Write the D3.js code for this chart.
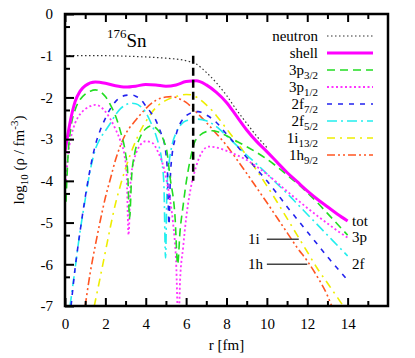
<!DOCTYPE html>
<html><head><meta charset="utf-8">
<script src="https://cdn.jsdelivr.net/npm/d3@7"></script>
<style>body{margin:0;background:#fff}svg{display:block}svg text{font-family:"Liberation Serif","DejaVu Serif",serif !important;fill:#000}</style>
</head><body><svg id="c" width="415" height="358" style="font-family:'Liberation Serif',serif"></svg>
<script>
// ---- data (r in fm, log10 density) ----
const neutron = [[0,-1.0],[1,-1.0],[2,-1.0],[3,-1.01],[4,-1.03],[5,-1.06],[5.5,-1.08],[6,-1.12],[6.5,-1.2],[7,-1.4],[7.5,-1.65],[8,-1.95],[8.5,-2.3],[9,-2.62],[9.5,-2.93],[10,-3.2]];
const shell = [[0,-3.3],[0.12,-2.95],[0.25,-2.6],[0.5,-2.1],[0.75,-1.85],[1,-1.72],[1.5,-1.63],[2,-1.66],[2.5,-1.72],[3,-1.75],[3.5,-1.73],[4,-1.69],[4.5,-1.7],[5,-1.73],[5.5,-1.7],[6,-1.62],[6.5,-1.6],[7,-1.7],[7.5,-1.88],[8,-2.12],[8.5,-2.45],[9,-2.78],[9.5,-3.06],[10,-3.3],[10.5,-3.55],[11,-3.8],[11.5,-4.02],[12,-4.24],[12.5,-4.44],[13,-4.62],[13.5,-4.8],[14,-4.96]];
const p3_2 = [[0.05,-4.5],[0.15,-3.4],[0.3,-2.7],[0.5,-2.3],[0.75,-2.05],[1,-1.92],[1.25,-1.85],[1.5,-1.82],[1.75,-1.86],[2,-1.98],[2.25,-2.18],[2.5,-2.44],[2.75,-2.82],[3,-3.35],[3.1,-3.75],[3.2,-4.9],[3.3,-3.9],[3.45,-3.35],[3.7,-2.98],[4,-2.75],[4.3,-2.68],[4.6,-2.78],[4.9,-3.05],[5.05,-3.3],[5.2,-3.9],[5.45,-4.86],[5.58,-6.0],[5.7,-5.2],[5.85,-4.6],[6,-4.05],[6.2,-3.5],[6.4,-3.1],[6.7,-2.9],[7,-2.82],[7.3,-2.8],[7.6,-2.83],[8,-2.92],[8.5,-3.05],[9,-3.18],[9.5,-3.32],[10,-3.48],[10.5,-3.66],[11,-3.86],[11.5,-4.06],[12,-4.28],[12.5,-4.52],[13,-4.78],[13.5,-5.04],[14,-5.3]];
const p1_2 = [[0.05,-4.0],[0.15,-3.4],[0.3,-2.95],[0.5,-2.62],[0.75,-2.4],[1,-2.28],[1.25,-2.21],[1.5,-2.18],[1.75,-2.22],[2,-2.34],[2.25,-2.52],[2.5,-2.76],[2.75,-3.05],[2.95,-3.4],[3.05,-3.8],[3.15,-5.3],[3.25,-4.0],[3.4,-3.55],[3.65,-3.2],[4,-3.05],[4.3,-3.08],[4.6,-3.3],[4.9,-3.7],[5.15,-4.3],[5.35,-5.0],[5.5,-5.9],[5.62,-7.5],[5.7,-6.4],[5.85,-5.6],[6,-4.9],[6.2,-4.25],[6.5,-3.65],[6.8,-3.3],[7.1,-3.18],[7.5,-3.2],[8,-3.28],[8.5,-3.38],[9,-3.5],[9.5,-3.66],[10,-3.84],[10.5,-4.04],[11,-4.25],[11.5,-4.45],[12,-4.65],[12.5,-4.84],[13,-5.02],[13.5,-5.2],[14,-5.36]];
const f7_2 = [[0.3,-7.0],[0.5,-6.1],[0.75,-5.2],[1,-4.4],[1.25,-3.7],[1.5,-3.15],[1.75,-2.78],[2,-2.5],[2.25,-2.27],[2.5,-2.1],[2.75,-2.0],[3,-1.95],[3.25,-1.94],[3.5,-1.97],[3.75,-2.05],[4,-2.2],[4.25,-2.36],[4.5,-2.55],[4.75,-2.85],[4.9,-3.05],[5.0,-3.35],[5.08,-3.85],[5.15,-5.05],[5.22,-3.9],[5.3,-3.4],[5.45,-3.0],[5.6,-2.74],[5.8,-2.55],[6,-2.44],[6.3,-2.36],[6.6,-2.34],[7,-2.42],[7.5,-2.6],[8,-2.88],[8.5,-3.15],[9,-3.44],[9.5,-3.72],[10,-4.0],[10.5,-4.3],[11,-4.62],[11.5,-4.92],[12,-5.22],[12.5,-5.52],[13,-5.82],[13.5,-6.1],[14,-6.38]];
const f5_2 = [[0.25,-7.0],[0.5,-6.1],[0.75,-5.2],[1,-4.45],[1.25,-3.75],[1.5,-3.25],[1.75,-2.98],[2,-2.8],[2.25,-2.62],[2.5,-2.42],[2.75,-2.27],[3,-2.18],[3.25,-2.14],[3.5,-2.15],[3.75,-2.22],[4,-2.36],[4.25,-2.6],[4.5,-2.9],[4.65,-3.15],[4.8,-3.55],[4.9,-4.1],[4.98,-5.85],[5.05,-4.2],[5.15,-3.6],[5.3,-3.15],[5.5,-2.85],[5.75,-2.65],[6,-2.56],[6.5,-2.52],[7,-2.56],[7.5,-2.7],[8,-2.92],[8.5,-3.15],[9,-3.38],[9.5,-3.6],[10,-3.83],[10.5,-4.07],[11,-4.3],[11.5,-4.55],[12,-4.8],[12.5,-5.05],[13,-5.3],[13.5,-5.55],[14,-5.8]];
const i13_2 = [[1.45,-7.0],[1.75,-6.3],[2,-5.7],[2.25,-5.1],[2.5,-4.55],[2.75,-4.1],[3,-3.7],[3.25,-3.35],[3.5,-3.05],[3.8,-2.74],[4,-2.58],[4.3,-2.36],[4.6,-2.2],[5,-2.07],[5.5,-1.98],[6,-1.93],[6.3,-1.94],[6.6,-2.02],[7,-2.18],[7.3,-2.32],[7.6,-2.5],[8,-2.75],[8.5,-3.07],[9,-3.4],[9.5,-3.75],[10,-4.12],[10.5,-4.5],[11,-4.9],[11.5,-5.3],[12,-5.7],[12.5,-6.1],[13,-6.45],[13.5,-6.8],[13.85,-7.05]];
const h9_2 = [[1.0,-7.0],[1.25,-6.2],[1.5,-5.55],[1.75,-4.95],[2,-4.4],[2.25,-3.95],[2.5,-3.5],[2.75,-3.15],[3,-2.88],[3.5,-2.55],[4,-2.27],[4.5,-2.07],[5,-1.99],[5.3,-1.98],[5.6,-2.02],[6,-2.12],[6.3,-2.25],[6.6,-2.4],[7,-2.6],[7.5,-2.87],[8,-3.15],[8.5,-3.48],[9,-3.82],[9.5,-4.17],[10,-4.52],[10.5,-4.88],[11,-5.24],[11.5,-5.6],[12,-5.92],[12.5,-6.3],[13,-6.75],[13.25,-7.05]];
const markerR = 6.35, markerLogRange = [-1.0, -4.0];
const xTicks = [0,2,4,6,8,10,12,14];
const yTicks = [0,-1,-2,-3,-4,-5,-6,-7];
const endLabels = [{t:"tot", y:-4.96},{t:"3p", y:-5.35},{t:"2f", y:-6.0}];
const pointerLabels = [{t:"1i", y:-5.40, r0:10.0, r1:11.58},{t:"1h", y:-6.0, r0:10.0, r1:12.0}];

const series = [
  {name:"neutron", main:"neutron", sub:"", data:neutron, color:"#333", w:1.2, dash:"1.5,2.5"},
  {name:"shell", main:"shell", sub:"", data:shell, color:"#ff00ff", w:3, dash:null},
  {name:"3p32", main:"3p", sub:"3/2", data:p3_2, color:"#22dd22", w:1.6, dash:"8,5"},
  {name:"3p12", main:"3p", sub:"1/2", data:p1_2, color:"#ff33ff", w:1.8, dash:"2,2.5"},
  {name:"2f72", main:"2f", sub:"7/2", data:f7_2, color:"#2222ee", w:1.6, dash:"5,6"},
  {name:"2f52", main:"2f", sub:"5/2", data:f5_2, color:"#22eeee", w:1.6, dash:"10,4,2,4"},
  {name:"1i132", main:"1i", sub:"13/2", data:i13_2, color:"#eeee00", w:1.6, dash:"8,5,2,5"},
  {name:"1h92", main:"1h", sub:"9/2", data:h9_2, color:"#ff5522", w:1.6, dash:"8,3,2,3,2,3"}
];

const FONT = "Liberation Serif";
const svg = d3.select("#c");
const L=65, R=388, T=14, B=306;
const x = d3.scaleLinear().domain([0,16]).range([L,R]);
const y = d3.scaleLinear().domain([-7,0]).range([B,T]);

svg.append("defs").append("clipPath").attr("id","clip").append("rect")
  .attr("x",L).attr("y",T).attr("width",R-L).attr("height",B-T);

const plot = svg.append("g").attr("clip-path","url(#clip)");
const line = d3.line().x(d=>x(d[0])).y(d=>y(d[1])).curve(d3.curveMonotoneX);

[...series].reverse().forEach(s=>{
  plot.append("path").datum(s.data).attr("d",line).attr("fill","none")
    .attr("stroke",s.color).attr("stroke-width",s.w)
    .attr("stroke-dasharray",s.dash);
});

plot.append("line").attr("x1",x(markerR)).attr("x2",x(markerR))
  .attr("y1",y(markerLogRange[0])).attr("y2",y(markerLogRange[1]))
  .attr("stroke","#000").attr("stroke-width",2.5).attr("stroke-dasharray","8,4");

const xMinor = d3.range(1,16,2);
const yMinor = d3.range(0,7).map(k=>-k+Math.log10(0.5));
const axB = svg.append("g").attr("transform",`translate(0,${B})`)
  .call(d3.axisBottom(x).tickValues(xTicks).tickSize(-8).tickPadding(12).tickFormat(d3.format("d")));
const axBm = svg.append("g").attr("transform",`translate(0,${B})`)
  .call(d3.axisBottom(x).tickValues(xMinor).tickSize(-5).tickFormat(""));
const axT = svg.append("g").attr("transform",`translate(0,${T})`)
  .call(d3.axisTop(x).tickValues(xTicks).tickSize(-8).tickFormat(""));
const axTm = svg.append("g").attr("transform",`translate(0,${T})`)
  .call(d3.axisTop(x).tickValues(xMinor).tickSize(-5).tickFormat(""));
const axL = svg.append("g").attr("transform",`translate(${L},0)`)
  .call(d3.axisLeft(y).tickValues(yTicks).tickSize(-9).tickPadding(12).tickFormat(d3.format("d")));
const axLm = svg.append("g").attr("transform",`translate(${L},0)`)
  .call(d3.axisLeft(y).tickValues(yMinor).tickSize(-5).tickFormat(""));
[axB,axBm,axT,axTm,axL,axLm].forEach(a=>{
  a.attr("font-family",FONT).attr("font-size",15);
  a.select(".domain").remove();
  a.selectAll("line").attr("stroke","#000").attr("stroke-width",2);
  a.selectAll("text").attr("fill","#000");
});
axL.selectAll("text").text(d=>d===0?"0":"-"+Math.abs(d));

svg.append("rect").attr("x",L).attr("y",T).attr("width",R-L).attr("height",B-T)
  .attr("fill","none").attr("stroke","#000").attr("stroke-width",2.5);

const txt = (sel)=>sel.append("text").attr("font-family",FONT);

txt(svg).attr("x",(L+R)/2).attr("y",350).attr("text-anchor","middle").attr("font-size",15).text("r [fm]");
const yl = txt(svg).attr("transform",`translate(24,${(T+B)/2}) rotate(-90)`).attr("text-anchor","middle").attr("font-size",15);
yl.append("tspan").text("log");
yl.append("tspan").attr("font-size",11).attr("dy",4).text("10");
yl.append("tspan").attr("dy",-4).text(" (ρ / fm");
yl.append("tspan").attr("font-size",11).attr("dy",-6).text("-3");
yl.append("tspan").attr("dy",6).text(")");

const tt = txt(svg).attr("x",107).attr("y",47).attr("font-size",19);
tt.append("tspan").attr("font-size",13).attr("dy",-9).text("176");
tt.append("tspan").attr("dy",9).text("Sn");

const lg = svg.append("g");
series.forEach((s,i)=>{
  const yy = 36 + i*17;
  const t = txt(lg).attr("x",318).attr("y",yy+5).attr("text-anchor","end").attr("font-size",15);
  t.append("tspan").text(s.main);
  if(s.sub) t.append("tspan").attr("font-size",11).attr("dy",4).text(s.sub);
  lg.append("line").attr("x1",327).attr("x2",373).attr("y1",yy).attr("y2",yy)
    .attr("stroke",s.color).attr("stroke-width",s.w).attr("stroke-dasharray",s.dash);
});

endLabels.forEach(e=>{
  txt(svg).attr("x",352).attr("y",y(e.y)+5).attr("font-size",15).text(e.t);
});
pointerLabels.forEach(p=>{
  txt(svg).attr("x",248).attr("y",y(p.y)+5).attr("font-size",15).text(p.t);
  svg.append("line").attr("x1",x(p.r0)).attr("x2",x(p.r1)).attr("y1",y(p.y)).attr("y2",y(p.y))
    .attr("stroke","#444").attr("stroke-width",1.5);
});
</script></body></html>
